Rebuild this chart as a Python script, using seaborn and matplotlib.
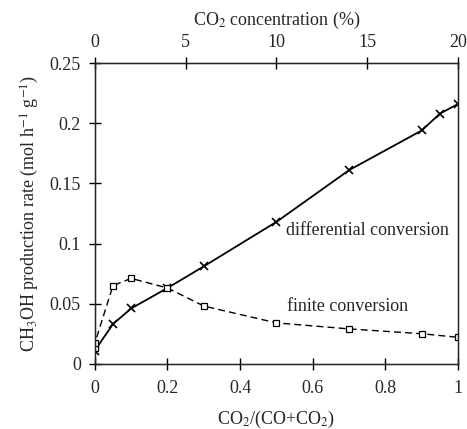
import numpy as np
import pandas as pd
import matplotlib
matplotlib.use("Agg")
import matplotlib.pyplot as plt
import seaborn as sns

### Dados
razao_diff = [0.0, 0.05, 0.1, 0.2, 0.3, 0.5, 0.7, 0.9, 0.95, 1.0]
taxa_diff = [0.011, 0.033, 0.046, 0.063, 0.081, 0.118, 0.161, 0.194, 0.208, 0.216]
razao_fin = [0.0, 0.0, 0.05, 0.1, 0.2, 0.3, 0.5, 0.7, 0.9, 1.0]
taxa_fin = [0.013, 0.017, 0.065, 0.071, 0.063, 0.048, 0.034, 0.029, 0.025, 0.022]
ticks_x = [0, 0.2, 0.4, 0.6, 0.8, 1]
ticks_y = [0, 0.05, 0.1, 0.15, 0.2, 0.25]
ticks_topo = [0, 5, 10, 15, 20]

### Estilo
sns.set_style("ticks")
plt.rcParams["font.family"] = ["Liberation Serif", "DejaVu Serif"]
plt.rcParams["mathtext.fontset"] = "stix"
plt.rcParams["font.size"] = 13
fs = 13

fig = plt.figure(figsize=(4.67, 4.29), dpi=100)
ax = fig.add_axes([0.203, 0.152, 0.778, 0.701])

diff = pd.DataFrame({"x": razao_diff, "y": taxa_diff})
fin = pd.DataFrame({"x": razao_fin, "y": taxa_fin})

sns.lineplot(data=diff, x="x", y="y", ax=ax, color="black", linewidth=1.3,
             marker="x", markersize=6, markeredgewidth=1.2, markeredgecolor="black",
             estimator=None, sort=False)
sns.lineplot(data=fin, x="x", y="y", ax=ax, color="black", linewidth=1.0,
             linestyle=(0, (5, 3)), marker="s", markersize=4.5, markerfacecolor="white",
             markeredgecolor="black", markeredgewidth=0.9, estimator=None, sort=False)

ax.set_xlim(0, 1)
ax.set_ylim(0, 0.25)
ax.set_xticks(ticks_x)
ax.set_xticklabels(["0", "0.2", "0.4", "0.6", "0.8", "1"])
ax.set_yticks(ticks_y)
ax.set_yticklabels(["0", "0.05", "0.1", "0.15", "0.2", "0.25"])
ax.tick_params(direction="inout", length=8, width=1, color="black", labelsize=fs)
ax.tick_params(axis="x", pad=8)
ax.tick_params(axis="y", pad=6)
ax.set_xlabel("CO$_2$/(CO+CO$_2$)", fontsize=fs, labelpad=8)
ax.set_ylabel("CH$_3$OH production rate (mol h$^{-1}$ g$^{-1}$)", fontsize=fs, labelpad=6)
for s in ax.spines.values():
    s.set_linewidth(1.0)
    s.set_color("black")

ax.text(0.526, 0.111, "differential conversion", fontsize=fs, va="center")
ax.text(0.529, 0.048, "finite conversion", fontsize=fs, va="center")

### Eixo superior
ax2 = ax.twiny()
ax2.set_xlim(0, 20)
ax2.set_xticks(ticks_topo)
ax2.tick_params(direction="inout", length=8, width=1, color="black", labelsize=fs, pad=5)
ax2.set_xlabel("CO$_2$ concentration (%)", fontsize=fs, labelpad=6)

fig.savefig("out.png", dpi=100)
